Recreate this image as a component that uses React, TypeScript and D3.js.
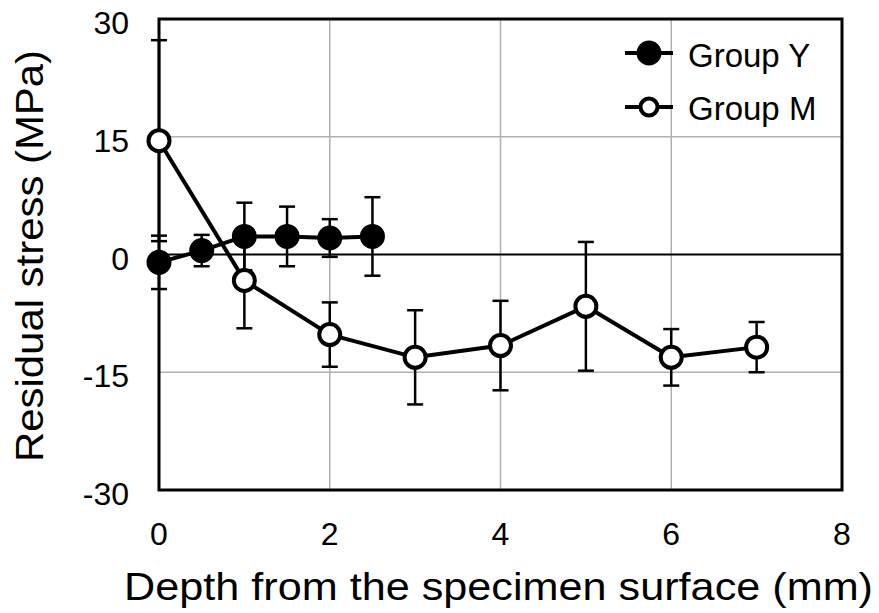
import { useEffect, useRef } from 'react';
import * as d3 from 'd3';

// depth (mm), residual stress (MPa) and the half-length of the error bar
const depthY = [0, 0.5, 1, 1.5, 2, 2.5];
const stressY = [-1.0, 0.5, 2.3, 2.3, 2.1, 2.3];
const errY = [3.4, 2.0, 4.3, 3.8, 2.4, 5.0];

const depthM = [0, 1, 2, 3, 4, 5, 6, 7];
const stressM = [14.5, -3.3, -10.2, -13.1, -11.6, -6.6, -13.1, -11.8];
const errM = [12.8, 6.1, 4.1, 6.0, 5.7, 8.2, 3.6, 3.2];

const xTicks = [0, 2, 4, 6, 8];
const yTicks = [-30, -15, 0, 15, 30];

const W = 879;
const H = 613;
const FONT = '"Liberation Sans", Arial, Helvetica, sans-serif';

export default function App() {
  const svgRef = useRef<SVGSVGElement>(null);

  useEffect(() => {
    if (!svgRef.current) return;
    const svg = d3.select(svgRef.current);
    svg.selectAll('*').remove();

    const x = d3.scaleLinear().domain([0, 8]).range([159, 842]);
    const y = d3.scaleLinear().domain([-30, 30]).range([490, 19]);

    svg.append('rect').attr('width', W).attr('height', H).attr('fill', '#fff');

    // grid
    const grid = svg.append('g').attr('stroke', '#b0b0b0').attr('stroke-width', 1.5);
    xTicks.slice(1, -1).forEach((t) => {
      grid.append('line').attr('x1', x(t)).attr('x2', x(t)).attr('y1', y(30)).attr('y2', y(-30));
    });
    [-15, 15].forEach((t) => {
      grid.append('line').attr('x1', x(0)).attr('x2', x(8)).attr('y1', y(t)).attr('y2', y(t));
    });
    svg
      .append('line')
      .attr('x1', x(0))
      .attr('x2', x(8))
      .attr('y1', y(0))
      .attr('y2', y(0))
      .attr('stroke', '#000')
      .attr('stroke-width', 1.8);

    // frame
    svg
      .append('rect')
      .attr('x', x(0))
      .attr('y', y(30))
      .attr('width', x(8) - x(0))
      .attr('height', y(-30) - y(30))
      .attr('fill', 'none')
      .attr('stroke', '#000')
      .attr('stroke-width', 3);

    // tick labels
    const ticks = svg.append('g').attr('font-family', FONT).attr('font-size', 32).attr('fill', '#000');
    yTicks.forEach((t) => {
      ticks
        .append('text')
        .attr('x', 129)
        .attr('y', y(t) + 15)
        .attr('text-anchor', 'end')
        .text(t);
    });
    xTicks.forEach((t) => {
      ticks
        .append('text')
        .attr('x', x(t))
        .attr('y', 545)
        .attr('text-anchor', 'middle')
        .text(t);
    });

    // axis titles
    svg
      .append('text')
      .attr('x', 124)
      .attr('y', 600)
      .attr('font-family', FONT)
      .attr('font-size', 39)
      .attr('textLength', 749)
      .attr('lengthAdjust', 'spacingAndGlyphs')
      .text('Depth from the specimen surface (mm)');
    svg
      .append('text')
      .attr('transform', 'translate(43,462) rotate(-90)')
      .attr('font-family', FONT)
      .attr('font-size', 39)
      .attr('textLength', 412)
      .attr('lengthAdjust', 'spacingAndGlyphs')
      .text('Residual stress (MPa)');

    const series = [
      { xs: depthM, ys: stressM, es: errM, fill: '#fff' },
      { xs: depthY, ys: stressY, es: errY, fill: '#000' },
    ];

    // error bars
    const cap = 8;
    series.forEach((s) => {
      const g = svg.append('g').attr('stroke', '#000').attr('stroke-width', 2.5);
      s.xs.forEach((d, i) => {
        const cx = x(d);
        const top = y(s.ys[i] + s.es[i]);
        const bot = y(s.ys[i] - s.es[i]);
        g.append('line').attr('x1', cx).attr('x2', cx).attr('y1', top).attr('y2', bot);
        g.append('line').attr('x1', cx - cap).attr('x2', cx + cap).attr('y1', top).attr('y2', top);
        g.append('line').attr('x1', cx - cap).attr('x2', cx + cap).attr('y1', bot).attr('y2', bot);
      });
    });

    // lines
    series.forEach((s) => {
      const pts = s.xs.map((d, i) => [x(d), y(s.ys[i])] as [number, number]);
      svg
        .append('path')
        .attr('d', d3.line()(pts))
        .attr('fill', 'none')
        .attr('stroke', '#000')
        .attr('stroke-width', 4)
        .attr('stroke-linejoin', 'round');
    });

    // markers
    series.forEach((s) => {
      svg
        .append('g')
        .selectAll('circle')
        .data(s.xs)
        .enter()
        .append('circle')
        .attr('cx', (d) => x(d))
        .attr('cy', (_, i) => y(s.ys[i]))
        .attr('r', 10.5)
        .attr('fill', s.fill)
        .attr('stroke', '#000')
        .attr('stroke-width', 4);
    });

    // legend
    const legend = [
      { label: 'Group Y', fill: '#000', r: 10.5, cy: 53, ty: 67 },
      { label: 'Group M', fill: '#fff', r: 8.5, cy: 107, ty: 120 },
    ];
    legend.forEach((l) => {
      svg
        .append('line')
        .attr('x1', 625)
        .attr('x2', 673)
        .attr('y1', l.cy)
        .attr('y2', l.cy)
        .attr('stroke', '#000')
        .attr('stroke-width', 4);
      svg
        .append('circle')
        .attr('cx', 649)
        .attr('cy', l.cy)
        .attr('r', l.r)
        .attr('fill', l.fill)
        .attr('stroke', '#000')
        .attr('stroke-width', 4);
      svg
        .append('text')
        .attr('x', 688)
        .attr('y', l.ty)
        .attr('font-family', FONT)
        .attr('font-size', 33)
        .text(l.label);
    });
  }, []);

  return (
    <div style={{ position: 'fixed', left: 0, top: 0 }}>
      <svg ref={svgRef} width={W} height={H} />
    </div>
  );
}
